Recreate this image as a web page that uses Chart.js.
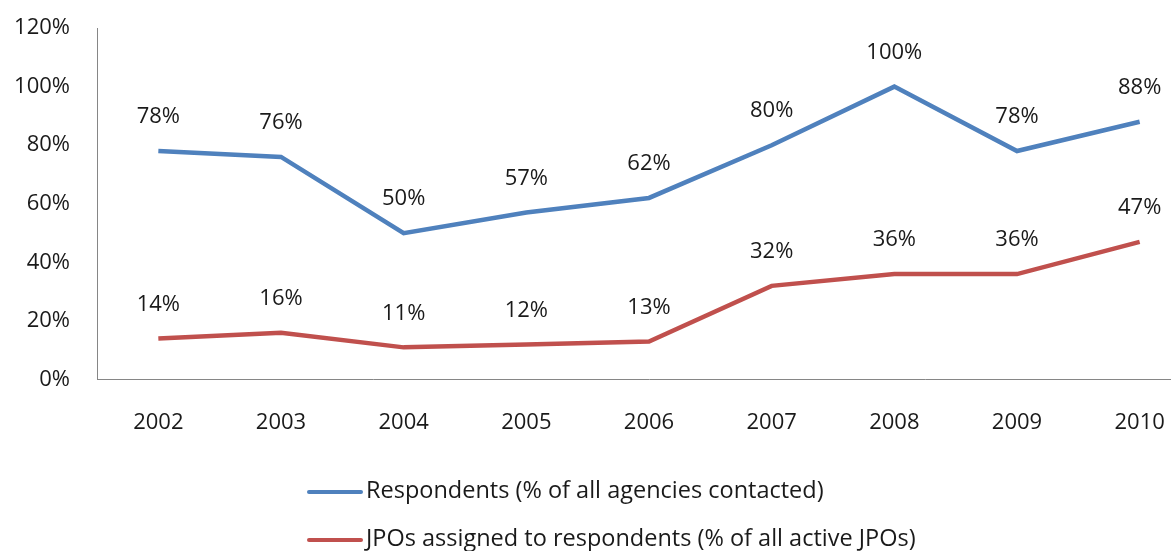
<!DOCTYPE html>
<html>
<head>
<meta charset="utf-8">
<script src="https://cdn.jsdelivr.net/npm/chart.js@4.4.1/dist/chart.umd.min.js"></script>
<style>
  html, body { margin: 0; padding: 0; background: #fff; overflow: hidden; }
  #wrap { position: absolute; left: 0; top: 0; width: 1201px; height: 551px; }
  .legend { position: absolute; left: 307px; font: 23.5px "Open Sans", sans-serif; color: #1a1a1a; white-space: nowrap; }
  .legend i { display: inline-block; width: 56px; height: 4px; vertical-align: middle; margin-right: 3px; border-radius: 2px; }
</style>
</head>
<body>
<div id="wrap"><canvas id="chart" width="1201" height="551"></canvas></div>
<div class="legend" style="top:473px"><i style="background:#4F81BD"></i>Respondents (% of all agencies contacted)</div>
<div class="legend" style="top:521px"><i style="background:#C0504D"></i>JPOs assigned to respondents (% of all active JPOs)</div>
<script>
// Survey years and percentages
const years = ["2002", "2003", "2004", "2005", "2006", "2007", "2008", "2009", "2010"];
const respondents = [78, 76, 50, 57, 62, 80, 100, 78, 88];
const jpos = [14, 16, 11, 12, 13, 32, 36, 36, 47];
const yTicks = [0, 20, 40, 60, 80, 100, 120];

const FONT = '"Open Sans", sans-serif';

// Value labels drawn above each point
const pointLabels = {
  id: "pointLabels",
  afterDatasetsDraw(chart) {
    const ctx = chart.ctx;
    ctx.save();
    ctx.font = "22px " + FONT;
    ctx.fillStyle = "#1a1a1a";
    ctx.textAlign = "center";
    ctx.textBaseline = "middle";
    chart.data.datasets.forEach((ds, i) => {
      chart.getDatasetMeta(i).data.forEach((pt, j) => {
        ctx.fillText(ds.data[j] + "%", pt.x, pt.y - 34);
      });
    });
    ctx.restore();
  },
};

new Chart(document.getElementById("chart"), {
  type: "line",
  data: {
    labels: years,
    datasets: [
      {
        label: "Respondents (% of all agencies contacted)",
        data: respondents,
        borderColor: "#4F81BD",
        borderWidth: 4.5,
        pointRadius: 0,
        tension: 0,
      },
      {
        label: "JPOs assigned to respondents (% of all active JPOs)",
        data: jpos,
        borderColor: "#C0504D",
        borderWidth: 4.5,
        pointRadius: 0,
        tension: 0,
      },
    ],
  },
  options: {
    responsive: false,
    animation: false,
    layout: { autoPadding: false, padding: { top: 28, bottom: 85, right: 0, left: 0 } },
    plugins: { legend: { display: false }, tooltip: { enabled: false } },
    scales: {
      x: {
        offset: true,
        grid: { display: false, drawTicks: false },
        border: { color: "#868686", width: 1 },
        ticks: { padding: 30, color: "#1a1a1a", font: { family: FONT, size: 22 }, maxRotation: 0 },
      },
      y: {
        min: 0,
        max: 120,
        // fixed axis width; tick padding should not push the plot top down
        afterFit(scale) {
          scale.width = 97;
          scale.paddingTop = 0;
          scale.paddingBottom = 0;
        },
        afterBuildTicks(scale) { scale.ticks = yTicks.map((v) => ({ value: v })); },
        grid: { display: false, drawTicks: false },
        border: { color: "#868686", width: 1 },
        ticks: {
          padding: 27,
          color: "#1a1a1a",
          font: { family: FONT, size: 22 },
          callback: (v) => v + "%",
        },
      },
    },
  },
  plugins: [pointLabels],
});
</script>
</body>
</html>
